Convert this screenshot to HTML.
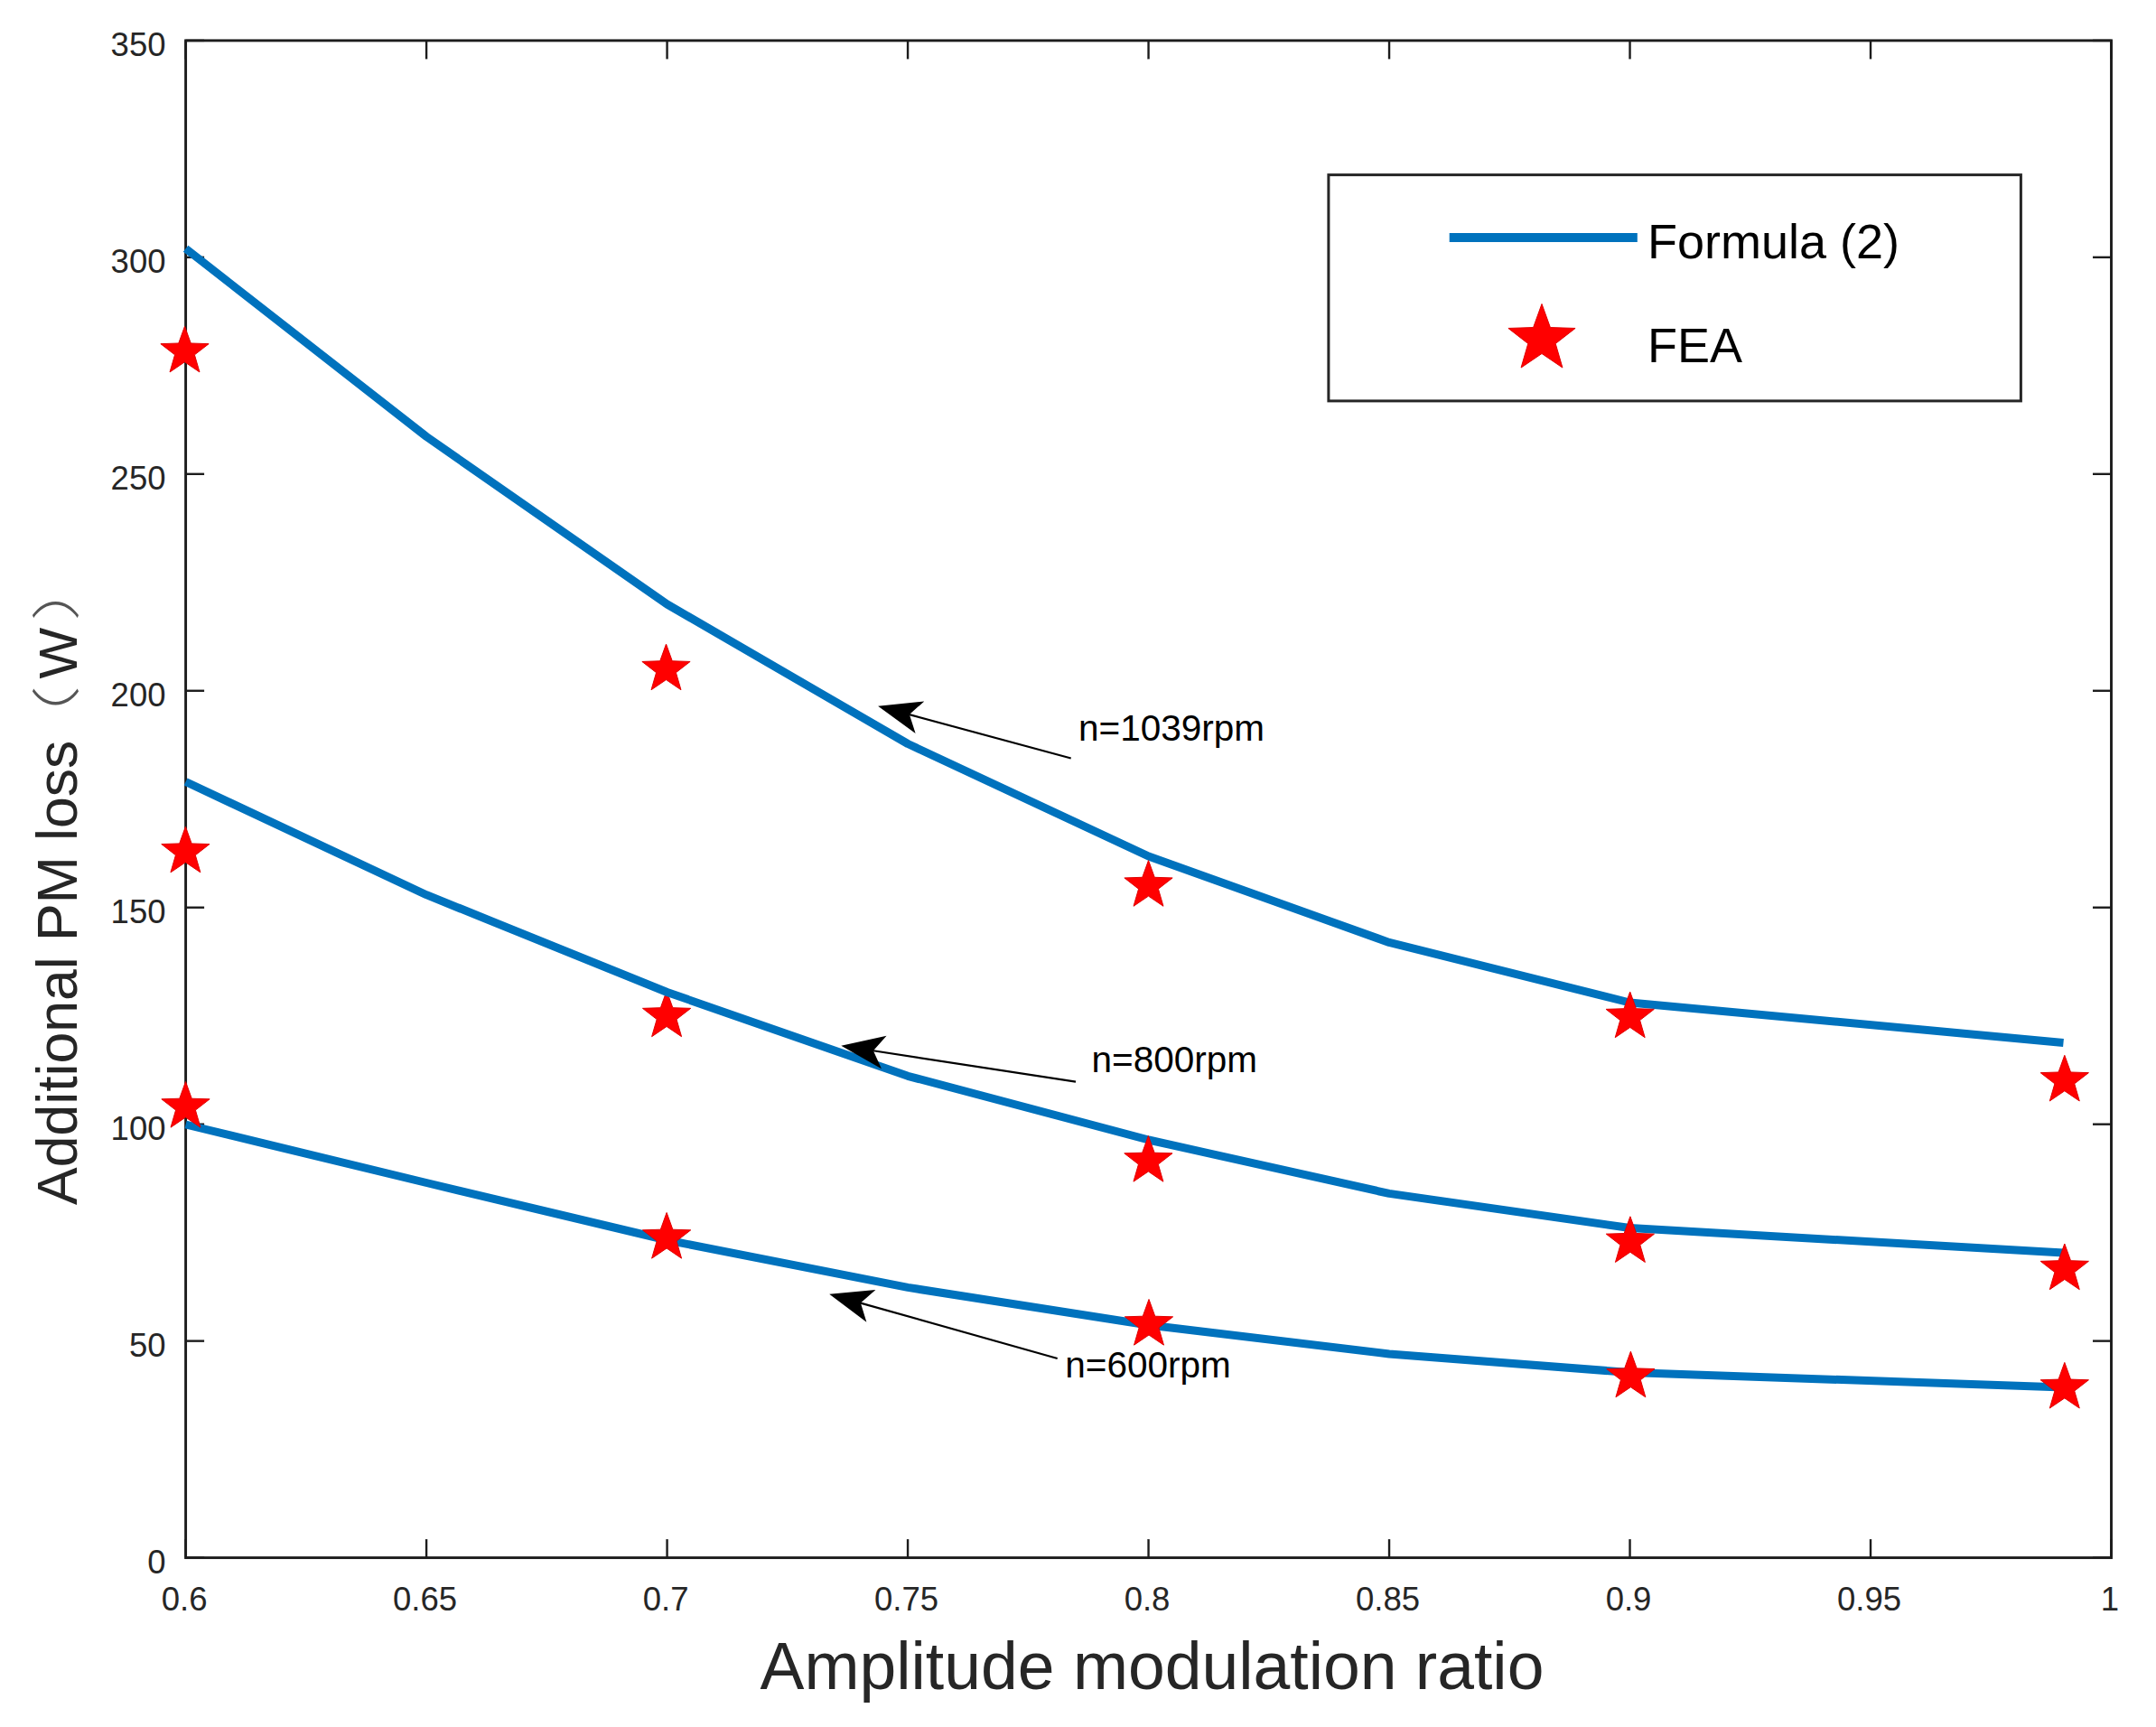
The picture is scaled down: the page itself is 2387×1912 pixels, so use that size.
<!DOCTYPE html>
<html><head><meta charset="utf-8"><title>Additional PM loss</title>
<style>html,body{margin:0;padding:0;background:#fff;}svg{display:block;}</style>
</head><body>
<svg width="2387" height="1912" viewBox="0 0 2387 1912">
<rect x="0" y="0" width="2387" height="1912" fill="#fff"/>
<rect x="205.6" y="44.9" width="2131.90" height="1679.70" fill="none" stroke="#1c1c1c" stroke-width="2.9"/>
<line x1="205.60" y1="1724.6" x2="205.60" y2="1704.1" stroke="#1c1c1c" stroke-width="2.4"/>
<line x1="205.60" y1="44.9" x2="205.60" y2="65.4" stroke="#1c1c1c" stroke-width="2.4"/>
<line x1="472.09" y1="1724.6" x2="472.09" y2="1704.1" stroke="#1c1c1c" stroke-width="2.4"/>
<line x1="472.09" y1="44.9" x2="472.09" y2="65.4" stroke="#1c1c1c" stroke-width="2.4"/>
<line x1="738.57" y1="1724.6" x2="738.57" y2="1704.1" stroke="#1c1c1c" stroke-width="2.4"/>
<line x1="738.57" y1="44.9" x2="738.57" y2="65.4" stroke="#1c1c1c" stroke-width="2.4"/>
<line x1="1005.06" y1="1724.6" x2="1005.06" y2="1704.1" stroke="#1c1c1c" stroke-width="2.4"/>
<line x1="1005.06" y1="44.9" x2="1005.06" y2="65.4" stroke="#1c1c1c" stroke-width="2.4"/>
<line x1="1271.55" y1="1724.6" x2="1271.55" y2="1704.1" stroke="#1c1c1c" stroke-width="2.4"/>
<line x1="1271.55" y1="44.9" x2="1271.55" y2="65.4" stroke="#1c1c1c" stroke-width="2.4"/>
<line x1="1538.04" y1="1724.6" x2="1538.04" y2="1704.1" stroke="#1c1c1c" stroke-width="2.4"/>
<line x1="1538.04" y1="44.9" x2="1538.04" y2="65.4" stroke="#1c1c1c" stroke-width="2.4"/>
<line x1="1804.53" y1="1724.6" x2="1804.53" y2="1704.1" stroke="#1c1c1c" stroke-width="2.4"/>
<line x1="1804.53" y1="44.9" x2="1804.53" y2="65.4" stroke="#1c1c1c" stroke-width="2.4"/>
<line x1="2071.01" y1="1724.6" x2="2071.01" y2="1704.1" stroke="#1c1c1c" stroke-width="2.4"/>
<line x1="2071.01" y1="44.9" x2="2071.01" y2="65.4" stroke="#1c1c1c" stroke-width="2.4"/>
<line x1="2337.50" y1="1724.6" x2="2337.50" y2="1704.1" stroke="#1c1c1c" stroke-width="2.4"/>
<line x1="2337.50" y1="44.9" x2="2337.50" y2="65.4" stroke="#1c1c1c" stroke-width="2.4"/>
<line x1="205.6" y1="1724.60" x2="226.1" y2="1724.60" stroke="#1c1c1c" stroke-width="2.4"/>
<line x1="2337.5" y1="1724.60" x2="2317.0" y2="1724.60" stroke="#1c1c1c" stroke-width="2.4"/>
<line x1="205.6" y1="1484.64" x2="226.1" y2="1484.64" stroke="#1c1c1c" stroke-width="2.4"/>
<line x1="2337.5" y1="1484.64" x2="2317.0" y2="1484.64" stroke="#1c1c1c" stroke-width="2.4"/>
<line x1="205.6" y1="1244.69" x2="226.1" y2="1244.69" stroke="#1c1c1c" stroke-width="2.4"/>
<line x1="2337.5" y1="1244.69" x2="2317.0" y2="1244.69" stroke="#1c1c1c" stroke-width="2.4"/>
<line x1="205.6" y1="1004.73" x2="226.1" y2="1004.73" stroke="#1c1c1c" stroke-width="2.4"/>
<line x1="2337.5" y1="1004.73" x2="2317.0" y2="1004.73" stroke="#1c1c1c" stroke-width="2.4"/>
<line x1="205.6" y1="764.77" x2="226.1" y2="764.77" stroke="#1c1c1c" stroke-width="2.4"/>
<line x1="2337.5" y1="764.77" x2="2317.0" y2="764.77" stroke="#1c1c1c" stroke-width="2.4"/>
<line x1="205.6" y1="524.81" x2="226.1" y2="524.81" stroke="#1c1c1c" stroke-width="2.4"/>
<line x1="2337.5" y1="524.81" x2="2317.0" y2="524.81" stroke="#1c1c1c" stroke-width="2.4"/>
<line x1="205.6" y1="284.86" x2="226.1" y2="284.86" stroke="#1c1c1c" stroke-width="2.4"/>
<line x1="2337.5" y1="284.86" x2="2317.0" y2="284.86" stroke="#1c1c1c" stroke-width="2.4"/>
<line x1="205.6" y1="44.90" x2="226.1" y2="44.90" stroke="#1c1c1c" stroke-width="2.4"/>
<line x1="2337.5" y1="44.90" x2="2317.0" y2="44.90" stroke="#1c1c1c" stroke-width="2.4"/>
<polygon points="738.10,1097.00 744.85,1115.71 764.73,1116.35 749.02,1128.55 754.56,1147.65 738.10,1136.48 721.64,1147.65 727.18,1128.55 711.47,1116.35 731.35,1115.71" fill="#ff0000" stroke="#e00000" stroke-width="1"/>
<polyline points="205.60,275.30 472.10,483.40 738.60,669.00 1005.10,823.50 1271.60,948.00 1538.00,1043.40 1804.50,1110.00 2284.50,1154.50" fill="none" stroke="#0072BD" stroke-width="9" stroke-linejoin="round" stroke-linecap="butt"/>
<polyline points="205.60,865.50 472.10,990.70 738.60,1098.50 1005.10,1191.30 1271.60,1262.00 1538.00,1321.40 1804.50,1359.50 2284.50,1387.00" fill="none" stroke="#0072BD" stroke-width="9" stroke-linejoin="round" stroke-linecap="butt"/>
<polyline points="205.60,1245.00 472.10,1309.50 738.60,1373.00 1005.10,1425.40 1271.60,1467.00 1538.00,1499.00 1804.50,1519.50 2284.50,1536.00" fill="none" stroke="#0072BD" stroke-width="9" stroke-linejoin="round" stroke-linecap="butt"/>
<polygon points="204.50,361.30 211.25,380.01 231.13,380.65 215.42,392.85 220.96,411.95 204.50,400.78 188.04,411.95 193.58,392.85 177.87,380.65 197.75,380.01" fill="#ff0000" stroke="#e00000" stroke-width="1"/>
<polygon points="737.50,713.10 744.25,731.81 764.13,732.45 748.42,744.65 753.96,763.75 737.50,752.58 721.04,763.75 726.58,744.65 710.87,732.45 730.75,731.81" fill="#ff0000" stroke="#e00000" stroke-width="1"/>
<polygon points="1271.50,952.60 1278.25,971.31 1298.13,971.95 1282.42,984.15 1287.96,1003.25 1271.50,992.08 1255.04,1003.25 1260.58,984.15 1244.87,971.95 1264.75,971.31" fill="#ff0000" stroke="#e00000" stroke-width="1"/>
<polygon points="1804.70,1098.00 1811.45,1116.71 1831.33,1117.35 1815.62,1129.55 1821.16,1148.65 1804.70,1137.48 1788.24,1148.65 1793.78,1129.55 1778.07,1117.35 1797.95,1116.71" fill="#ff0000" stroke="#e00000" stroke-width="1"/>
<polygon points="2285.80,1168.30 2292.55,1187.01 2312.43,1187.65 2296.72,1199.85 2302.26,1218.95 2285.80,1207.78 2269.34,1218.95 2274.88,1199.85 2259.17,1187.65 2279.05,1187.01" fill="#ff0000" stroke="#e00000" stroke-width="1"/>
<polygon points="205.40,915.20 212.15,933.91 232.03,934.55 216.32,946.75 221.86,965.85 205.40,954.68 188.94,965.85 194.48,946.75 178.77,934.55 198.65,933.91" fill="#ff0000" stroke="#e00000" stroke-width="1"/>
<polygon points="1271.40,1257.50 1278.15,1276.21 1298.03,1276.85 1282.32,1289.05 1287.86,1308.15 1271.40,1296.98 1254.94,1308.15 1260.48,1289.05 1244.77,1276.85 1264.65,1276.21" fill="#ff0000" stroke="#e00000" stroke-width="1"/>
<polygon points="1804.90,1346.80 1811.65,1365.51 1831.53,1366.15 1815.82,1378.35 1821.36,1397.45 1804.90,1386.28 1788.44,1397.45 1793.98,1378.35 1778.27,1366.15 1798.15,1365.51" fill="#ff0000" stroke="#e00000" stroke-width="1"/>
<polygon points="2285.80,1377.00 2292.55,1395.71 2312.43,1396.35 2296.72,1408.55 2302.26,1427.65 2285.80,1416.48 2269.34,1427.65 2274.88,1408.55 2259.17,1396.35 2279.05,1395.71" fill="#ff0000" stroke="#e00000" stroke-width="1"/>
<polygon points="205.50,1197.50 212.25,1216.21 232.13,1216.85 216.42,1229.05 221.96,1248.15 205.50,1236.98 189.04,1248.15 194.58,1229.05 178.87,1216.85 198.75,1216.21" fill="#ff0000" stroke="#e00000" stroke-width="1"/>
<polygon points="738.10,1342.50 744.85,1361.21 764.73,1361.85 749.02,1374.05 754.56,1393.15 738.10,1381.98 721.64,1393.15 727.18,1374.05 711.47,1361.85 731.35,1361.21" fill="#ff0000" stroke="#e00000" stroke-width="1"/>
<polygon points="1272.00,1438.50 1278.75,1457.21 1298.63,1457.85 1282.92,1470.05 1288.46,1489.15 1272.00,1477.98 1255.54,1489.15 1261.08,1470.05 1245.37,1457.85 1265.25,1457.21" fill="#ff0000" stroke="#e00000" stroke-width="1"/>
<polygon points="1805.40,1496.20 1812.15,1514.91 1832.03,1515.55 1816.32,1527.75 1821.86,1546.85 1805.40,1535.68 1788.94,1546.85 1794.48,1527.75 1778.77,1515.55 1798.65,1514.91" fill="#ff0000" stroke="#e00000" stroke-width="1"/>
<polygon points="2285.80,1508.40 2292.55,1527.11 2312.43,1527.75 2296.72,1539.95 2302.26,1559.05 2285.80,1547.88 2269.34,1559.05 2274.88,1539.95 2259.17,1527.75 2279.05,1527.11" fill="#ff0000" stroke="#e00000" stroke-width="1"/>
<g font-family="'Liberation Sans', Arial, Helvetica, sans-serif" font-size="36.5" fill="#262626">
<text x="204.10" y="1782.6" text-anchor="middle">0.6</text>
<text x="470.59" y="1782.6" text-anchor="middle">0.65</text>
<text x="737.07" y="1782.6" text-anchor="middle">0.7</text>
<text x="1003.56" y="1782.6" text-anchor="middle">0.75</text>
<text x="1270.05" y="1782.6" text-anchor="middle">0.8</text>
<text x="1536.54" y="1782.6" text-anchor="middle">0.85</text>
<text x="1803.03" y="1782.6" text-anchor="middle">0.9</text>
<text x="2069.51" y="1782.6" text-anchor="middle">0.95</text>
<text x="2336.00" y="1782.6" text-anchor="middle">1</text>
<text x="183.5" y="1741.80" text-anchor="end">0</text>
<text x="183.5" y="1501.84" text-anchor="end">50</text>
<text x="183.5" y="1261.89" text-anchor="end">100</text>
<text x="183.5" y="1021.93" text-anchor="end">150</text>
<text x="183.5" y="781.97" text-anchor="end">200</text>
<text x="183.5" y="542.01" text-anchor="end">250</text>
<text x="183.5" y="302.06" text-anchor="end">300</text>
<text x="183.5" y="62.10" text-anchor="end">350</text>
</g>
<text x="1275.5" y="1870.2" text-anchor="middle" font-family="'Liberation Sans', Arial, Helvetica, sans-serif" font-size="73.3" fill="#262626">Amplitude modulation ratio</text>
<text transform="translate(84.5,1333.9) rotate(-90)" x="0" y="0" font-family="'Liberation Sans', Arial, Helvetica, sans-serif" font-size="62.5" fill="#262626">Additional PM loss</text>
<text transform="translate(81.5,834.5) rotate(-90) scale(1.4,1)" x="0" y="0" font-family="'Liberation Sans', 'Noto Sans CJK SC', sans-serif" font-weight="300" font-size="54" fill="#555">（</text>
<text transform="translate(84.5,751.4) rotate(-90)" x="0" y="0" font-family="'Liberation Sans', Arial, Helvetica, sans-serif" font-size="60" fill="#262626">W</text>
<text transform="translate(81.5,687.4) rotate(-90) scale(1.4,1)" x="0" y="0" font-family="'Liberation Sans', 'Noto Sans CJK SC', sans-serif" font-weight="300" font-size="54" fill="#555">）</text>
<line x1="1185.70" y1="839.50" x2="1006.85" y2="791.10" stroke="#000" stroke-width="2.2"/>
<polygon points="972.10,781.70 1013.60,812.10 1006.85,791.10 1023.27,776.38" fill="#000"/>
<line x1="1191.00" y1="1197.70" x2="966.88" y2="1163.27" stroke="#000" stroke-width="2.2"/>
<polygon points="931.30,1157.80 975.93,1183.37 966.88,1163.27 981.55,1146.80" fill="#000"/>
<line x1="1170.70" y1="1504.00" x2="952.85" y2="1442.57" stroke="#000" stroke-width="2.2"/>
<polygon points="918.20,1432.80 959.38,1463.63 952.85,1442.57 969.42,1428.02" fill="#000"/>
<g font-family="'Liberation Sans', Arial, Helvetica, sans-serif" font-size="40.5" fill="#000">
<text x="1194.0" y="820.1">n=1039rpm</text>
<text x="1208.5" y="1187.1">n=800rpm</text>
<text x="1179.3" y="1525.4">n=600rpm</text>
</g>
<rect x="1470.9" y="193.6" width="766.5" height="250.3" fill="#fff" stroke="#262626" stroke-width="3"/>
<line x1="1604.7" y1="263.0" x2="1812.8" y2="263.0" stroke="#0072BD" stroke-width="10"/>
<polygon points="1707.00,336.50 1716.40,362.56 1744.09,363.45 1722.21,380.44 1729.92,407.05 1707.00,391.49 1684.08,407.05 1691.79,380.44 1669.91,363.45 1697.60,362.56" fill="#ff0000" stroke="#e00000" stroke-width="1"/>
<g font-family="'Liberation Sans', Arial, Helvetica, sans-serif" font-size="54" fill="#000">
<text x="1824.0" y="286.0">Formula (2)</text>
<text x="1824.0" y="401.3">FEA</text>
</g>
</svg>
</body></html>
